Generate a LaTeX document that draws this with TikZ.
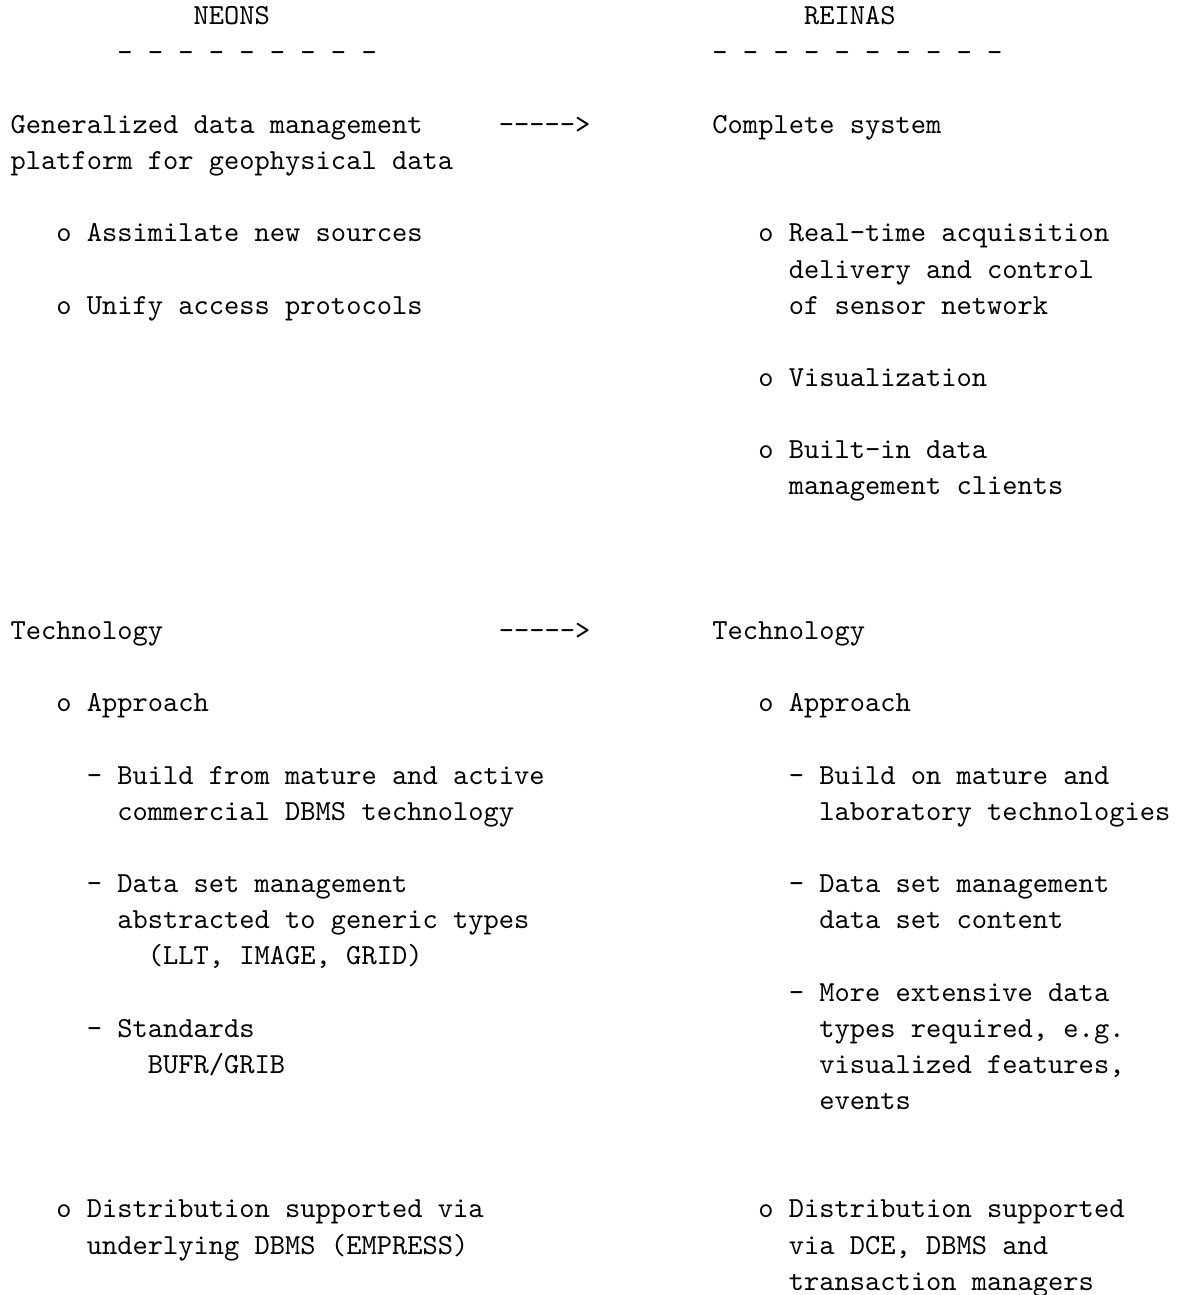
\documentclass[tikz,border=0pt]{standalone}
\usepackage{graphicx}
\newcommand\hyk{-\kern0pt}
\newcommand\tl[1]{\scalebox{2.907}{\fontsize{10}{12}\selectfont\ttfamily #1}}
\begin{document}
\begin{tikzpicture}[x=1pt,y=-1pt,
  declare function={cx(\c)=10.5+\c*15.26; ry(\r)=25+\r*36.15;},
  txt/.style={anchor=base west, inner sep=0pt, outer sep=0pt}]
\path[fill=white,use as bounding box] (0,0) rectangle (1176,1295);
% headings
\node[txt] (hNeons) at ({cx(12)},{ry(0)}) {\tl{NEONS}};
\node[txt] (hReinas) at ({cx(52)},{ry(0)}) {\tl{REINAS}};
\node[txt] (dNeons) at ({cx(7)},{ry(1)}) {\tl{- - - - - - - - -}};
\node[txt] (dReinas) at ({cx(46)},{ry(1)}) {\tl{- - - - - - - - - -}};
% first block
\node[txt] (l3) at ({cx(0)},{ry(3)}) {\tl{Generalized data management}};
\node[txt] (a1) at ({cx(32)},{ry(3)}) {\tl{\hyk\hyk\hyk\hyk\hyk>}};
\node[txt] (r3) at ({cx(46)},{ry(3)}) {\tl{Complete system}};
\node[txt] (l4) at ({cx(0)},{ry(4)}) {\tl{platform for geophysical data}};
\node[txt] (l6) at ({cx(3)},{ry(6)}) {\tl{o Assimilate new sources}};
\node[txt] (r6) at ({cx(49)},{ry(6)}) {\tl{o Real-time acquisition}};
\node[txt] (r7) at ({cx(51)},{ry(7)}) {\tl{delivery and control}};
\node[txt] (l8) at ({cx(3)},{ry(8)}) {\tl{o Unify access protocols}};
\node[txt] (r8) at ({cx(51)},{ry(8)}) {\tl{of sensor network}};
\node[txt] (r10) at ({cx(49)},{ry(10)}) {\tl{o Visualization}};
\node[txt] (r12) at ({cx(49)},{ry(12)}) {\tl{o Built-in data}};
\node[txt] (r13) at ({cx(51)},{ry(13)}) {\tl{management clients}};
% technology block
\node[txt] (l17) at ({cx(0)},{ry(17)}) {\tl{Technology}};
\node[txt] (a2) at ({cx(32)},{ry(17)}) {\tl{\hyk\hyk\hyk\hyk\hyk>}};
\node[txt] (r17) at ({cx(46)},{ry(17)}) {\tl{Technology}};
\node[txt] (l19) at ({cx(3)},{ry(19)}) {\tl{o Approach}};
\node[txt] (r19) at ({cx(49)},{ry(19)}) {\tl{o Approach}};
\node[txt] (l21) at ({cx(5)},{ry(21)}) {\tl{- Build from mature and active}};
\node[txt] (r21) at ({cx(51)},{ry(21)}) {\tl{- Build on mature and}};
\node[txt] (l22) at ({cx(7)},{ry(22)}) {\tl{commercial DBMS technology}};
\node[txt] (r22) at ({cx(53)},{ry(22)}) {\tl{laboratory technologies}};
\node[txt] (l24) at ({cx(5)},{ry(24)}) {\tl{- Data set management}};
\node[txt] (r24) at ({cx(51)},{ry(24)}) {\tl{- Data set management}};
\node[txt] (l25) at ({cx(7)},{ry(25)}) {\tl{abstracted to generic types}};
\node[txt] (r25) at ({cx(53)},{ry(25)}) {\tl{data set content}};
\node[txt] (l26) at ({cx(9)},{ry(26)}) {\tl{(LLT, IMAGE, GRID)}};
\node[txt] (r27) at ({cx(51)},{ry(27)}) {\tl{- More extensive data}};
\node[txt] (l28) at ({cx(5)},{ry(28)}) {\tl{- Standards}};
\node[txt] (r28) at ({cx(53)},{ry(28)}) {\tl{types required, e.g.}};
\node[txt] (l29) at ({cx(9)},{ry(29)}) {\tl{BUFR/GRIB}};
\node[txt] (r29) at ({cx(53)},{ry(29)}) {\tl{visualized features,}};
\node[txt] (r30) at ({cx(53)},{ry(30)}) {\tl{events}};
\node[txt] (l33) at ({cx(3)},{ry(33)}) {\tl{o Distribution supported via}};
\node[txt] (r33) at ({cx(49)},{ry(33)}) {\tl{o Distribution supported}};
\node[txt] (l34) at ({cx(5)},{ry(34)}) {\tl{underlying DBMS (EMPRESS)}};
\node[txt] (r34) at ({cx(51)},{ry(34)}) {\tl{via DCE, DBMS and}};
\node[txt] (r35) at ({cx(51)},{ry(35)}) {\tl{transaction managers}};
\end{tikzpicture}
\end{document}
